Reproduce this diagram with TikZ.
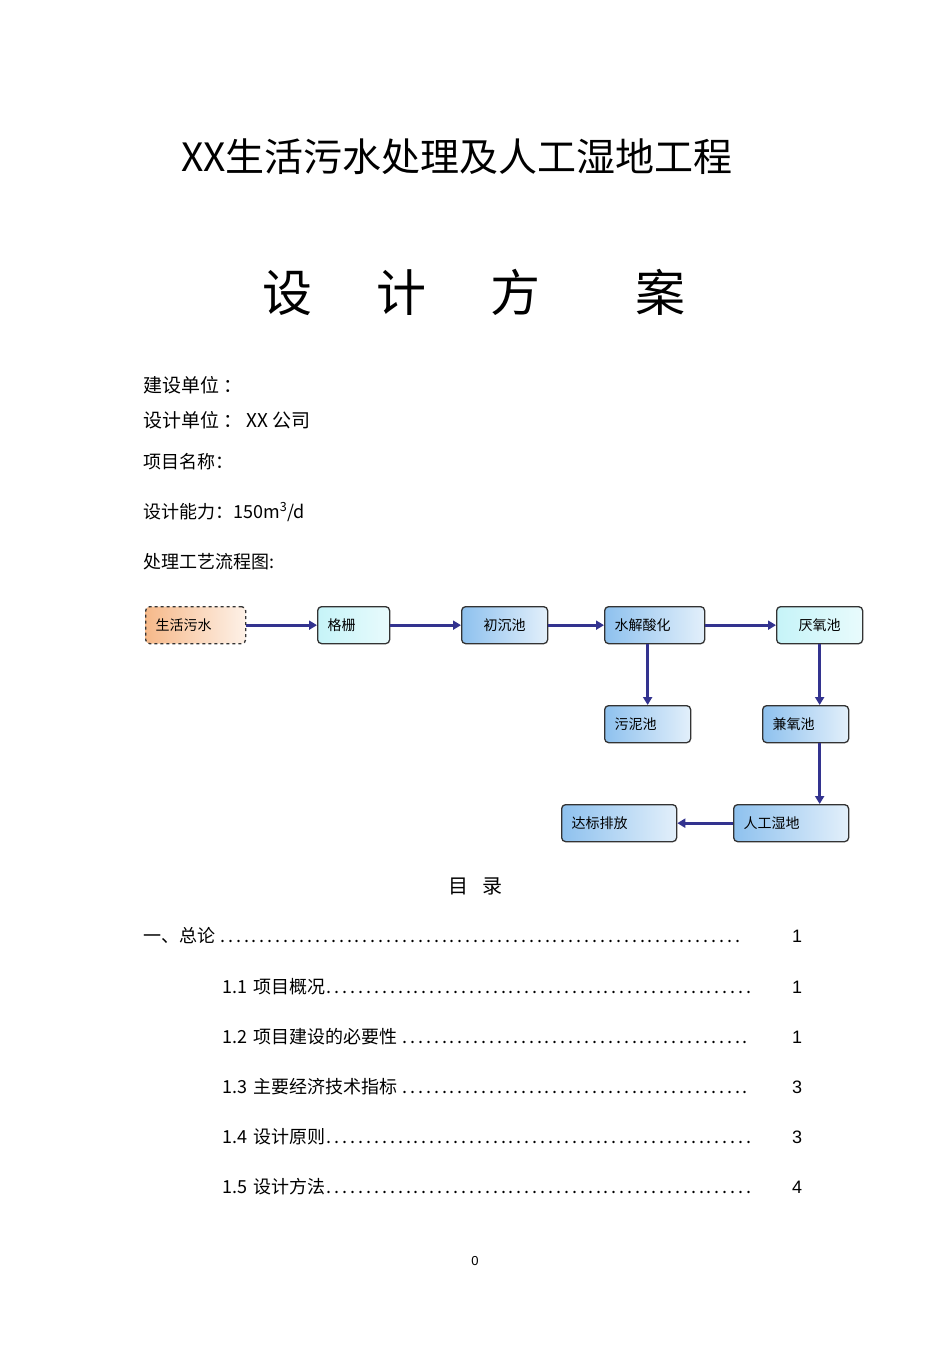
\documentclass[tikz,border=0pt]{standalone}
\usepackage{fontspec}
\setmainfont{Liberation Sans}
\newfontfamily\cjk{Noto Sans CJK SC}
\usetikzlibrary{arrows.meta}
\definecolor{flowarrow}{HTML}{33338F}
\definecolor{boxblue}{HTML}{8EC1EE}
\definecolor{boxcyan}{HTML}{C6F4F8}
\definecolor{boxorange}{HTML}{F6B98A}
\tikzset{
  procbox/.style={draw=black!80,line width=1.3pt,rounded corners=4pt,
    left color=boxblue,right color=boxblue!25,minimum height=37pt,
    anchor=north west,inner xsep=10pt,align=left,font=\cjk\fontsize{14}{14}\selectfont},
  bw/.style={text width=#1-20pt},
  proccyan/.style={procbox,left color=boxcyan,right color=boxcyan!40},
  procorange/.style={procbox,dashed,left color=boxorange,right color=boxorange!20},
  flow/.style={draw=flowarrow,line width=3.2pt,-{Triangle[length=8pt,width=9pt]}},
  txt/.style={anchor=west,inner sep=0pt,font=\cjk\fontsize{19}{19}\selectfont},
  tocline/.style={anchor=west,inner sep=0pt,font=\cjk\fontsize{18}{18}\selectfont}
}
\begin{document}
\begin{tikzpicture}[x=1pt,y=-1pt]
\useasboundingbox[fill=white] (0,0) rectangle (950,1345);
% headings
\node[inner sep=0pt,font=\cjk\fontsize{39}{39}\selectfont] (title) at (457,157) {XX生活污水处理及人工湿地工程};
\node[inner sep=0pt,font=\cjk\fontsize{50}{50}\selectfont] (plan) at (474,292) {设\hspace{64pt}计\hspace{64pt}方\hspace{95pt}案};
% project info
\node[txt] (unit) at (143,385) {建设单位 ：};
\node[txt] (design) at (143,420) {设计单位 ：  XX 公司};
\node[txt,font=\cjk\fontsize{18}{18}\selectfont] (name) at (143,462) {项目名称：};
\node[txt,font=\cjk\fontsize{18}{18}\selectfont] (cap) at (143,512) {设计能力：150m\textsuperscript{3}/d};
\node[txt,font=\cjk\fontsize{18}{18}\selectfont] (chart) at (143,562) {处理工艺流程图:};
% flow chart
\node[procorange,bw=100pt] (sw) at (145,606) {生活污水};
\node[proccyan,bw=72pt] (gs) at (317,606) {格栅};
\node[procbox,bw=86pt,align=center] (ccc) at (461,606) {初沉池};
\node[procbox,bw=100pt] (shj) at (604,606) {水解酸化};
\node[proccyan,bw=86pt,align=center] (ya) at (776,606) {厌氧池};
\node[procbox,bw=86pt] (wn) at (604,705) {污泥池};
\node[procbox,bw=86pt] (jy) at (762,705) {兼氧池};
\node[procbox,bw=115pt] (rg) at (733,804) {人工湿地};
\node[procbox,bw=115pt] (db) at (561,804) {达标排放};
\draw[flow] (sw) -- (gs);
\draw[flow] (gs) -- (ccc);
\draw[flow] (ccc) -- (shj);
\draw[flow] (shj) -- (ya);
\draw[flow] (wn.north |- shj.south) -- (wn.north);
\draw[flow] (ya.south) -- (ya.south |- jy.north);
\draw[flow] (ya.south |- jy.south) -- (ya.south |- rg.north);
\draw[flow] (rg) -- (db);
% contents
\node[inner sep=0pt,font=\cjk\fontsize{20}{20}\selectfont] (toc) at (475,886) {目\hspace{14pt}录};
\node[tocline,text width=602pt] (t0) at (143,936) {一、总论\dotfill};
\node[inner sep=0pt,font=\fontsize{18}{18}\selectfont] (p0) at (797,936) {1};
\foreach \y/\t/\p [count=\i] in {987/1.1 项目概况/1,1037/1.2 项目建设的必要性/1,1087/1.3 主要经济技术指标/3,1137/1.4 设计原则/3,1187/1.5 设计方法/4}{
  \node[tocline,text width=531pt] (t\i) at (222,\y) {\t\dotfill};
  \node[inner sep=0pt,font=\fontsize{18}{18}\selectfont] (p\i) at (797,\y) {\p};
}
\node[inner sep=0pt,font=\fontsize{13}{13}\selectfont] (pg) at (475,1261) {0};
\end{tikzpicture}
\end{document}
